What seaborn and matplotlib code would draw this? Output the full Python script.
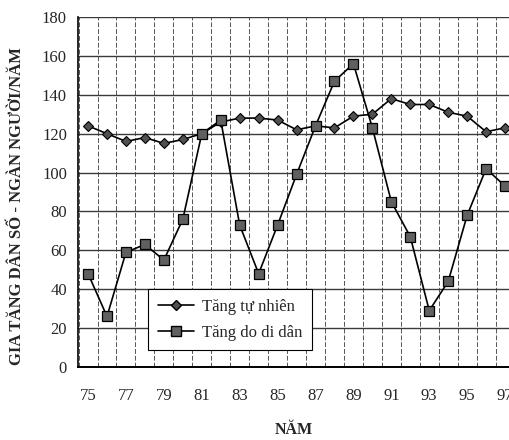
import numpy as np
import pandas as pd
import matplotlib
matplotlib.use("Agg")
import matplotlib.pyplot as plt
import seaborn as sns
from matplotlib.ticker import MultipleLocator, FixedLocator
from matplotlib.lines import Line2D

years = list(range(75, 98))
natural = [124, 120, 116, 118, 115, 117, 120, 126, 128, 128, 127, 122, 124,
           123, 129, 130, 138, 135, 135, 131, 129, 121, 123]
migration = [48, 26, 59, 63, 55, 76, 120, 127, 73, 48, 73, 99, 124,
             147, 156, 123, 85, 67, 29, 44, 78, 102, 93]
series_names = ["Tăng tự nhiên", "Tăng do di dân"]
y_label = "GIA TĂNG DÂN SỐ - NGÀN NGƯỜI/NĂM"
x_label = "NĂM"
tick_years = list(range(75, 98, 2))

sns.set_style("white")
plt.rcParams['font.family'] = ['Liberation Serif', 'DejaVu Serif']

df = pd.DataFrame({
    "year": years * 2,
    "value": natural + migration,
    "series": [series_names[0]] * len(years) + [series_names[1]] * len(years),
})

fig = plt.figure(figsize=(5.1, 4.4), dpi=100)
ax = fig.add_axes([78/510, (440-367)/440, 1 - 78/510, (367-17)/440])

sns.lineplot(data=df, x="year", y="value", hue="series", style="series",
             palette={series_names[0]: "black", series_names[1]: "black"},
             markers={series_names[0]: "D", series_names[1]: "s"},
             dashes=False, ax=ax, linewidth=1.2, legend=False)

for ln in ax.get_lines():
    if ln.get_marker() == "D":
        ln.set_markersize(5)
        ln.set_markerfacecolor("#505050")
        ln.set_markeredgecolor("black")
        ln.set_markeredgewidth(0.8)
    elif ln.get_marker() == "s":
        ln.set_markersize(6.5)
        ln.set_markerfacecolor("#606060")
        ln.set_markeredgecolor("black")
        ln.set_markeredgewidth(0.9)

ax.set_xlim(74.47, 97.26)
ax.set_ylim(0, 180)
ax.yaxis.set_major_locator(MultipleLocator(20))
ax.xaxis.set_major_locator(FixedLocator(tick_years))
ax.xaxis.set_minor_locator(FixedLocator([y + 0.5 for y in range(74, 98)]))

ax.grid(axis="y", which="major", color="#3a3a3a", linewidth=1.0, linestyle="-")
ax.grid(axis="x", which="minor", color="#555555", linewidth=0.7, linestyle=(0, (5, 2)))
ax.grid(axis="x", which="major", visible=False)
ax.set_axisbelow(True)

for s in ["top", "right"]:
    ax.spines[s].set_visible(False)
ax.spines["left"].set_color("black")
ax.spines["left"].set_linewidth(1.2)
ax.spines["bottom"].set_color("black")
ax.spines["bottom"].set_linewidth(1.4)

ax.tick_params(axis="x", which="major", length=0, labelsize=12, pad=15)
ax.tick_params(axis="x", which="minor", length=4, width=1, direction="out", color="black")
ax.tick_params(axis="y", which="major", length=4, width=1, direction="out", labelsize=12, pad=4)

ax.set_xlabel(x_label, fontsize=11.5, fontweight="bold", labelpad=13)
ax.set_ylabel(y_label, fontsize=12, fontweight="bold")
ax.yaxis.set_label_coords(-0.123, 0.46)

handles = [
    Line2D([], [], color="black", lw=1.2, marker="D", markersize=5,
           markerfacecolor="#505050", markeredgecolor="black"),
    Line2D([], [], color="black", lw=1.2, marker="s", markersize=6.5,
           markerfacecolor="#606060", markeredgecolor="black"),
]
leg = fig.legend(handles, series_names, loc="lower left",
                 bbox_to_anchor=(140/510, (440-358)/440),
                 fontsize=12, frameon=True, fancybox=False, framealpha=1,
                 edgecolor="black", handlelength=2.2, labelspacing=0.6,
                 borderpad=0.55, handletextpad=0.5)
leg.get_frame().set_linewidth(0.8)

fig.savefig("out.png", dpi=100)
